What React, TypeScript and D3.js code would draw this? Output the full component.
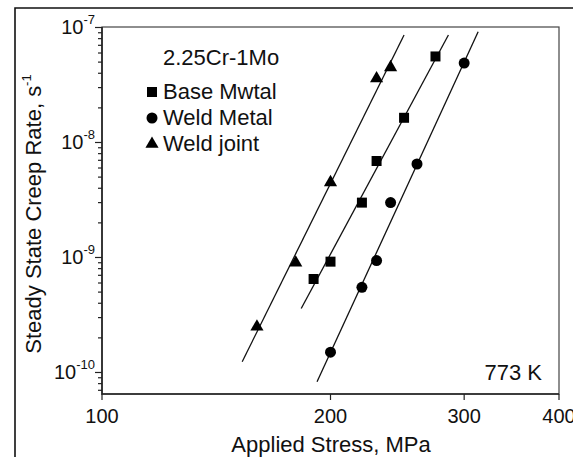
import React from "react";
import * as d3 from "d3";

const W = 573;
const H = 457;
const plot = { left: 102, right: 559, top: 27, bottom: 394 };

// measured points (stress in MPa, creep rate in 1/s)
const baseStress = [190, 200, 220, 230, 250, 275];
const baseRate = [6.5e-10, 9.2e-10, 3.0e-9, 6.9e-9, 1.64e-8, 5.6e-8];
const weldStress = [200, 220, 230, 240, 260, 300];
const weldRate = [1.5e-10, 5.5e-10, 9.4e-10, 3.0e-9, 6.5e-9, 4.9e-8];
const jointStress = [160, 180, 200, 230, 240];
const jointRate = [2.5e-10, 9.0e-10, 4.5e-9, 3.6e-8, 4.5e-8];

// fitted power-law lines, end points
const baseFitStress = [183, 286];
const baseFitRate = [3.6e-10, 8.6e-8];
const weldFitStress = [192, 313];
const weldFitRate = [8.3e-11, 9.2e-8];
const jointFitStress = [153, 250];
const jointFitRate = [1.24e-10, 8.6e-8];

const xTicks = [100, 200, 300, 400];
const yMajor = [1e-10, 1e-9, 1e-8, 1e-7];
const yExp = ["-10", "-9", "-8", "-7"];

const legendNames = ["Base Mwtal", "Weld Metal", "Weld joint"];
const legendSymbols = [d3.symbolSquare, d3.symbolCircle, d3.symbolTriangle];
const symbolSizes = [100, 95, 75];

const x = d3.scaleLog().domain([100, 400]).range([plot.left, plot.right]);
const y = d3.scaleLog().domain([6.5e-11, 1.01e-7]).range([plot.bottom, plot.top]);

const font = "'Liberation Sans', Arial, sans-serif";

export default function App() {
  const series = [
    { s: baseStress, r: baseRate, fs: baseFitStress, fr: baseFitRate },
    { s: weldStress, r: weldRate, fs: weldFitStress, fr: weldFitRate },
    { s: jointStress, r: jointRate, fs: jointFitStress, fr: jointFitRate },
  ];
  const minor = y.ticks().filter((t) => t >= y.domain()[0] && t <= y.domain()[1]);
  const line = d3
    .line<[number, number]>()
    .x((d) => x(d[0]))
    .y((d) => y(d[1]));

  return (
    <svg
      width={W}
      height={H}
      style={{ position: "absolute", left: 0, top: 0, background: "#fff" }}
      fontFamily={font}
    >
      {/* outer frame */}
      <path d={`M15,${H} L15,8 L${W},8`} fill="none" stroke="#111" strokeWidth={1.6} />

      {/* plot box */}
      <rect
        x={plot.left}
        y={plot.top}
        width={plot.right - plot.left}
        height={plot.bottom - plot.top}
        fill="none"
        stroke="#444"
        strokeWidth={1.2}
      />
      <path
        d={`M${plot.left},${plot.top} L${plot.left},${plot.bottom} L${plot.right},${plot.bottom}`}
        fill="none"
        stroke="#222"
        strokeWidth={1.6}
      />

      {/* y ticks */}
      {minor.map((t, i) => {
        const major = yMajor.some((m) => Math.abs(m - t) / m < 1e-6);
        return (
          <line
            key={"ym" + i}
            x1={plot.left - (major ? 7 : 4)}
            x2={plot.left}
            y1={y(t)}
            y2={y(t)}
            stroke="#222"
            strokeWidth={1.2}
          />
        );
      })}
      {yMajor.map((t, i) => (
        <text key={"yl" + i} x={95} y={y(t) + 7} textAnchor="end" fontSize={20} fill="#111">
          10
          <tspan fontSize={13} dy={-10}>
            {yExp[i]}
          </tspan>
        </text>
      ))}

      {/* x ticks */}
      {xTicks.map((t, i) => (
        <g key={"x" + i}>
          <line x1={x(t)} x2={x(t)} y1={plot.bottom} y2={plot.bottom + 6} stroke="#222" strokeWidth={1.2} />
          <text x={x(t)} y={423} textAnchor="middle" fontSize={20} fill="#111">
            {t}
          </text>
        </g>
      ))}

      {/* axis titles */}
      <text x={331} y={452} textAnchor="middle" fontSize={22} fill="#111">
        Applied Stress, MPa
      </text>
      <text transform="translate(41,214) rotate(-90)" textAnchor="middle" fontSize={22} fill="#111">
        Steady State Creep Rate, s
        <tspan fontSize={13} dy={-10}>
          -1
        </tspan>
      </text>

      {/* fit lines */}
      {series.map((d, i) => (
        <path
          key={"f" + i}
          d={line(d.fs.map((s, j) => [s, d.fr[j]] as [number, number])) || ""}
          fill="none"
          stroke="#111"
          strokeWidth={1.3}
        />
      ))}

      {/* points */}
      {series.map((d, i) =>
        d.s.map((s, j) => (
          <path
            key={"p" + i + "-" + j}
            transform={`translate(${x(s)},${y(d.r[j])})`}
            d={d3.symbol().type(legendSymbols[i]).size(symbolSizes[i])() || ""}
            fill="#000"
          />
        ))
      )}

      {/* legend */}
      <text x={163} y={65} fontSize={22} fill="#111">
        2.25Cr-1Mo
      </text>
      {legendNames.map((n, i) => (
        <g key={"lg" + i}>
          <path
            transform={`translate(152,${92 + i * 26})`}
            d={d3.symbol().type(legendSymbols[i]).size(symbolSizes[i])() || ""}
            fill="#000"
          />
          <text x={163} y={99 + i * 26} fontSize={22} fill="#111">
            {n}
          </text>
        </g>
      ))}

      <text x={542} y={380} textAnchor="end" fontSize={22} fill="#111">
        773 K
      </text>
    </svg>
  );
}
